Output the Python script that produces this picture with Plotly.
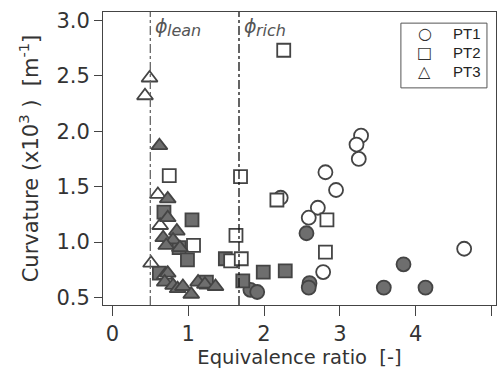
import plotly.graph_objects as go

# ---- data ----
pt1_open_x = [2.22, 3.28, 3.22, 3.25, 2.81, 2.95, 2.71, 2.59, 4.64, 2.78]
pt1_open_y = [1.40, 1.96, 1.88, 1.75, 1.63, 1.47, 1.31, 1.22, 0.94, 0.73]
pt1_fill_x = [2.56, 2.60, 2.59, 3.58, 3.84, 4.13, 1.82, 1.91]
pt1_fill_y = [1.08, 0.63, 0.59, 0.59, 0.80, 0.59, 0.57, 0.55]

pt2_open_x = [2.26, 0.75, 1.69, 2.17, 2.83, 2.81, 1.63, 1.07, 1.56, 1.70]
pt2_open_y = [2.73, 1.60, 1.59, 1.38, 1.20, 0.91, 1.06, 0.97, 0.83, 0.85]
pt2_fill_x = [1.05, 0.68, 0.88, 0.99, 0.62, 1.24, 1.49, 1.72, 1.99, 2.28]
pt2_fill_y = [1.20, 1.27, 0.95, 0.84, 0.72, 0.64, 0.85, 0.65, 0.73, 0.74]

pt3_open_x = [0.49, 0.43, 0.60, 0.63, 0.51, 0.69]
pt3_open_y = [2.48, 2.32, 1.43, 1.15, 0.81, 0.70]
pt3_fill_x = [0.62, 0.73, 0.73, 0.85, 0.67, 0.80, 0.71, 0.89,
              0.73, 0.69, 0.80, 0.86, 0.93, 1.04, 1.13, 1.22, 1.36]
pt3_fill_y = [1.87, 1.39, 1.22, 1.10, 1.04, 1.02, 0.97, 0.95,
              0.72, 0.64, 0.61, 0.58, 0.60, 0.53, 0.64, 0.62, 0.60]

phi_lean = 0.5
phi_rich = 1.67

legend_names = ["PT1", "PT2", "PT3"]
legend_glyphs = ["○", "□", "△"]
x_ticks = [0, 1, 2, 3, 4, 5]
y_ticks = [0.5, 1.0, 1.5, 2.0, 2.5, 3.0]
y_tick_text = ["0.5", "1.0", "1.5", "2.0", "2.5", "3.0"]

EDGE = "#444444"
FILL = "#6e6e6e"
FONT = "DejaVu Sans"
TXT = "#333333"

fig = go.Figure()

def add(x, y, symbol, filled, size, name):
    fig.add_trace(go.Scatter(
        x=x, y=y, mode="markers", showlegend=False, name=name,
        marker=dict(symbol=symbol, size=size,
                    color=FILL if filled else "white",
                    line=dict(color=EDGE, width=1.8)),
        hoverinfo="skip"))

add(pt1_open_x, pt1_open_y, "circle", False, 14, "PT1")
add(pt1_fill_x, pt1_fill_y, "circle", True, 14, "PT1")
add(pt2_fill_x, pt2_fill_y, "square", True, 13, "PT2")
add(pt2_open_x, pt2_open_y, "square", False, 13, "PT2")
add(pt3_open_x, pt3_open_y, "triangle-up", False, 14, "PT3")
add(pt3_fill_x, pt3_fill_y, "triangle-up", True, 14, "PT3")

fig.add_vline(x=phi_lean, line=dict(color="#666666", width=1.3, dash="dashdot"))
fig.add_vline(x=phi_rich, line=dict(color="#111111", width=1.3, dash="dashdot"))

for xv, sub in [(phi_lean, "lean"), (phi_rich, "rich")]:
    fig.add_annotation(x=xv, y=1, xref="x", yref="paper", text="<i>ϕ</i>",
                       showarrow=False, xanchor="left", yanchor="top",
                       xshift=3, yshift=-1,
                       font=dict(family=FONT, size=19, color="#555555"))
    fig.add_annotation(x=xv, y=1, xref="x", yref="paper", text="<i>" + sub + "</i>",
                       showarrow=False, xanchor="left", yanchor="top",
                       xshift=15, yshift=-7,
                       font=dict(family=FONT, size=16, color="#555555"))

# legend box (drawn like the reference's text legend)
fig.add_shape(type="rect", xref="paper", yref="paper",
              x0=0.758, x1=0.977, y0=0.741, y1=0.962,
              line=dict(color="#555555", width=1), fillcolor="white", layer="above")
row_y = [0.928, 0.862, 0.797]
for name, glyph, ry in zip(legend_names, legend_glyphs, row_y):
    fig.add_annotation(x=0.819, y=ry, xref="paper", yref="paper", text=glyph,
                       showarrow=False, xanchor="center", yanchor="middle",
                       font=dict(family=FONT, size=16, color="#333333"))
    fig.add_annotation(x=0.886, y=ry, xref="paper", yref="paper", text=name,
                       showarrow=False, xanchor="left", yanchor="middle",
                       font=dict(family="Liberation Sans", size=15, color="#222222"))

fig.update_layout(
    width=498, height=371,
    margin=dict(l=103, r=2, t=12, b=66),
    paper_bgcolor="white", plot_bgcolor="white",
    font=dict(family=FONT, size=21, color=TXT),
    showlegend=False,
    xaxis=dict(range=[-0.124, 5.06], tickvals=x_ticks, ticks="outside",
               ticklen=10, tickwidth=1, tickcolor="#444444",
               tickfont=dict(family=FONT, size=21, color=TXT),
               showline=True, linecolor="#444444", linewidth=1, mirror=True,
               showgrid=False, zeroline=False,
               title=dict(text="Equivalence ratio  [-]", standoff=2,
                          font=dict(family=FONT, size=19.5, color=TXT))),
    yaxis=dict(range=[0.433, 3.075], tickvals=y_ticks, ticktext=y_tick_text,
               ticks="outside", ticklen=8, tickwidth=1, tickcolor="#444444",
               tickfont=dict(family=FONT, size=21, color=TXT),
               showline=True, linecolor="#444444", linewidth=1, mirror=True,
               showgrid=False, zeroline=False,
               title=dict(text="Curvature (x10<sup>3</sup> )  [m<sup>-1</sup>]",
                          standoff=12, font=dict(family=FONT, size=21, color=TXT))),
)

fig.write_html("out.html")
